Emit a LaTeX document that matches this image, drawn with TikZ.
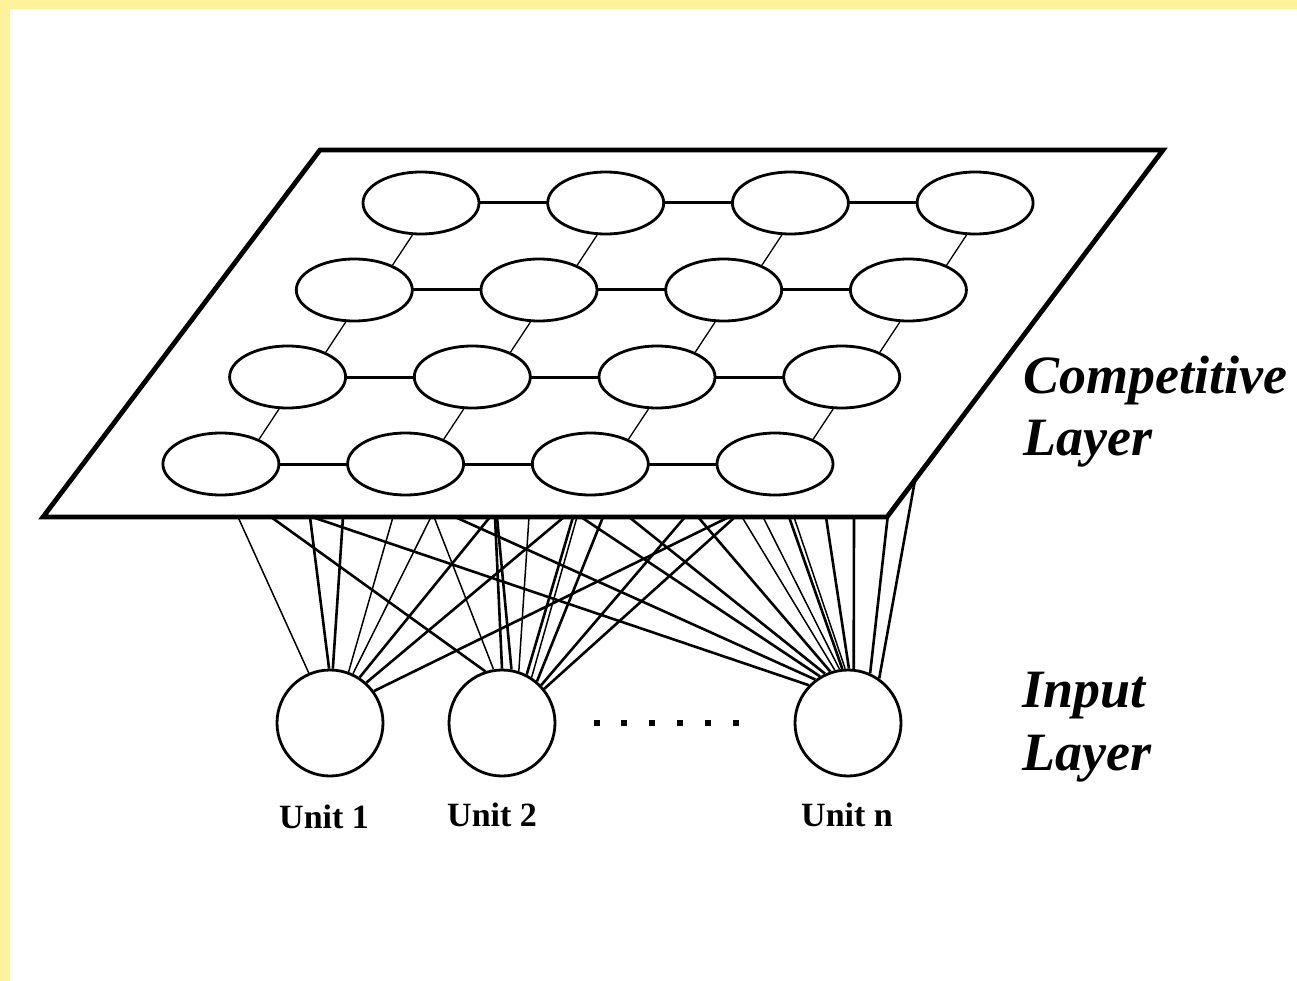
\documentclass[tikz,border=0pt]{standalone}
\usepackage{fontspec}
\setmainfont{Liberation Serif}
\usetikzlibrary{shapes.geometric}
\pgfdeclarelayer{bg}
\pgfdeclarelayer{wires}
\pgfdeclarelayer{planelayer}
\pgfdeclarelayer{links}
\pgfsetlayers{bg,wires,planelayer,links,main}
\definecolor{paper}{RGB}{255,242,155}
\tikzset{
 cell/.style={ellipse, draw, fill=white, line width=2.8pt, minimum width=116pt, minimum height=62pt, inner sep=0pt},
 unit/.style={circle, draw, fill=white, line width=2.8pt, minimum size=106pt, inner sep=0pt},
 wire/.style={line width=2.6pt},
 thinwire/.style={line width=1.5pt},
 hlink/.style={line width=3pt},
 dlink/.style={line width=1.3pt},
 plane/.style={draw, fill=white, line width=4.8pt, line join=miter},
 biglabel/.style={anchor=base west, inner sep=0pt, font=\fontsize{54}{60}\selectfont\bfseries\itshape},
 unitlabel/.style={anchor=base west, inner sep=0pt, font=\fontsize{34}{40}\selectfont\bfseries},
 dotsq/.style={rectangle, fill=black, minimum size=6pt, inner sep=0pt}
}
\begin{document}
\begin{tikzpicture}[x=1pt,y=-1pt]
\useasboundingbox (0,0) rectangle (1297,981);
\begin{pgfonlayer}{bg}
\fill[paper] (0,0) rectangle (1297,981);
\fill[white] (10,9) rectangle (1297,981);
\end{pgfonlayer}

% plane
\coordinate (pA) at (320,150);
\coordinate (pB) at (1163,150);
\coordinate (pC) at (887,517);
\coordinate (pD) at (43,517);
\begin{pgfonlayer}{planelayer}
\draw[plane] (pA) -- (pB) -- (pC) -- (pD) -- cycle;
\end{pgfonlayer}

% grid of cells
\foreach \r in {1,2,3,4}{
  \foreach \c in {1,2,3,4}{
    \pgfmathsetmacro{\cx}{421 - 66.7*(\r-1) + 184.7*(\c-1)}
    \pgfmathsetmacro{\cy}{203 + 87*(\r-1)}
    \node[cell] (n\r\c) at (\cx,\cy) {};
  }
}
\begin{pgfonlayer}{links}
\foreach \r in {1,2,3,4}{
  \foreach \c/\d in {1/2,2/3,3/4}{
    \draw[hlink] (n\r\c.center) -- (n\r\d.center);
  }
}
\foreach \r/\s in {1/2,2/3,3/4}{
  \foreach \c in {1,2,3,4}{
    \draw[dlink] (n\r\c.255) -- (n\s\c.33);
  }
}
\end{pgfonlayer}

% input units
\node[unit] (u1) at (330,723) {};
\node[unit] (u2) at (502,723) {};
\node[unit] (un) at (848,723) {};

% wires
\begin{pgfonlayer}{wires}
\foreach \sx/\ang/\st in {238/113/thinwire, 310/91/wire, 343/87/wire, 393/70/thinwire, 431/65/thinwire, 490/57/wire, 564/48/wire, 729/36/wire}{
  \coordinate (sa\sx) at (\sx,517);
  \draw[\st] (sa\sx) -- (u1.\ang);
}
\foreach \sx/\ang/\st in {271/108/wire, 434/99/thinwire, 495/90/wire, 497/80/wire, 529/72/thinwire, 573/63/wire, 577/57/thinwire, 603/50/wire, 685/44/wire, 735/39/wire}{
  \coordinate (sb\sx) at (\sx,517);
  \draw[\st] (sb\sx) -- (u2.\ang);
}
\foreach \sx/\ang/\st in {312/136/wire, 455/127/wire, 581/121/wire, 629/115/wire, 698/109/wire, 742/104/thinwire, 763/99/thinwire, 789/96/wire, 794/93/thinwire, 826/89/wire, 854/84/wire}{
  \coordinate (sc\sx) at (\sx,517);
  \draw[\st] (sc\sx) -- (un.\ang);
}
\coordinate (sr1) at (888,514);
\coordinate (sr2) at (915,480);
\draw[wire] (sr1) -- (un.66);
\draw[wire] (sr2) -- (un.55);
\end{pgfonlayer}

% dots
\foreach \i/\x in {1/597,2/624,3/652,4/680,5/708,6/736}{
  \node[dotsq] (dt\i) at (\x,723) {};
}

% labels
\node[unitlabel] (t1) at (279,828) {Unit 1};
\node[unitlabel] (t2) at (447,826) {Unit 2};
\node[unitlabel] (tn) at (801,826) {Unit n};
\node[biglabel] (c1) at (1023,393) {Competitive};
\node[biglabel] (c2) at (1023,455) {Layer};
\node[biglabel] (i1) at (1022,707) {Input};
\node[biglabel] (i2) at (1022,770) {Layer};
\end{tikzpicture}
\end{document}
